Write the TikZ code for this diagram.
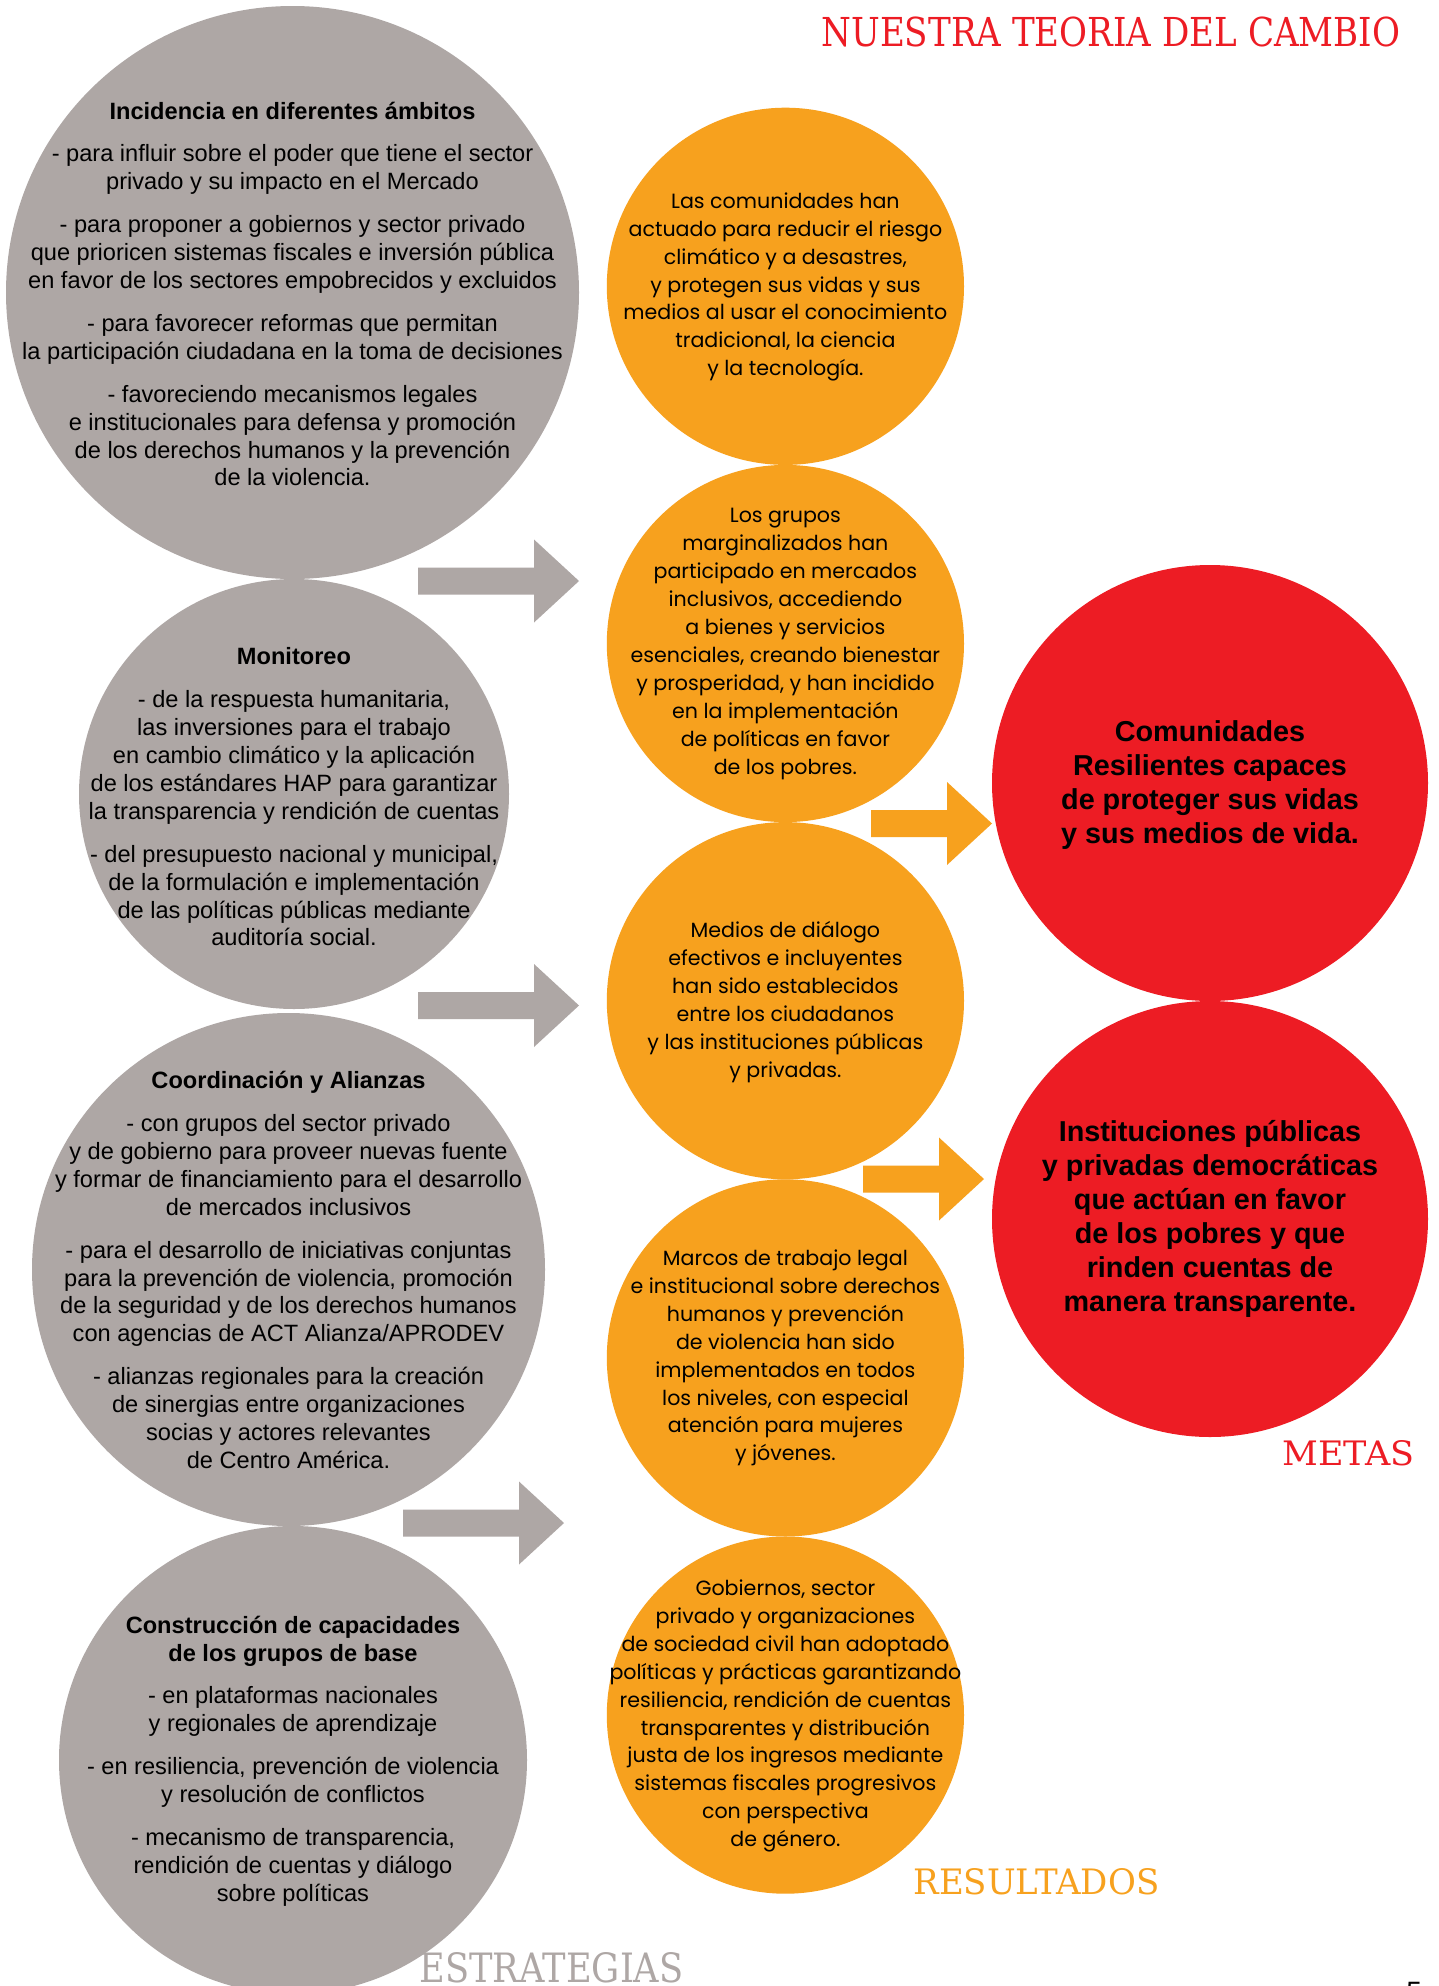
\documentclass[tikz,border=0pt]{standalone}
\usepackage{fontspec}
\setmainfont{Liberation Sans}
\newfontfamily\grfont{Liberation Sans}
\newfontfamily\orfont{Poppins}
\newfontfamily\slabfont{DejaVu Serif}
\definecolor{cgrey}{RGB}{174,167,165}
\definecolor{corange}{RGB}{247,161,30}
\definecolor{cred}{RGB}{237,28,36}
\tikzset{
  gcirc/.style={circle,fill=cgrey,inner sep=0pt,minimum size=#1},
  ocirc/.style={circle,fill=corange,inner sep=0pt,minimum size=#1},
  rcirc/.style={circle,fill=cred,inner sep=0pt,minimum size=#1},
  gtext/.style={align=center,inner sep=0pt,text=black,font=\grfont\fontsize{11.8pt}{13.95pt}\selectfont},
  otext/.style={align=center,inner sep=0pt,text=black,font=\orfont\fontsize{10.3pt}{13.95pt}\selectfont},
  rtext/.style={align=center,inner sep=0pt,text=black,font=\grfont\bfseries\fontsize{14.4pt}{17pt}\selectfont},
  lbl/.style={inner sep=0pt,anchor=south west},
  pics/barrow/.style={code={
    \fill (0,-13.5) -- (#1,-13.5) -- (#1,-41.5) -- (#1+45,0) -- (#1,41.5) -- (#1,13.5) -- (0,13.5) -- cycle;}}
}
\begin{document}
\begin{tikzpicture}[x=0.5pt,y=-0.5pt]
\useasboundingbox (0,0) rectangle (1439,1986);
\fill[white] (0,0) rectangle (1439,1986);

% grey circles (strategies)
\node[gcirc=286.5pt] (g1) at (292.5,292.5) {};
\node[gcirc=215pt]   (g2) at (294,794) {};
\node[gcirc=256.5pt] (g3) at (288.5,1269.5) {};
\node[gcirc=234pt]   (g4) at (293,1760) {};

% orange circles (results)
\node[ocirc=178.6pt] (o1) at (785.4,286.3) {};
\node[ocirc=178.6pt] (o2) at (785.4,643.5) {};
\node[ocirc=178.6pt] (o3) at (785.4,1000.7) {};
\node[ocirc=178.6pt] (o4) at (785.4,1357.9) {};
\node[ocirc=178.6pt] (o5) at (785.4,1715.1) {};

% red circles (goals)
\node[rcirc=218pt] (r1) at (1210,783) {};
\node[rcirc=218pt] (r2) at (1210,1219) {};

% block arrows
\pic[fill=cgrey] at (418,581) {barrow=116};
\pic[fill=cgrey] at (418,1005.5) {barrow=116};
\pic[fill=cgrey] at (403,1523) {barrow=116};
\pic[fill=corange] at (871,823.5) {barrow=76};
\pic[fill=corange] at (863,1179) {barrow=76};

% grey texts
\node[gtext] (tg1) at (292.5,294) {\textbf{Incidencia en diferentes ámbitos}\\[7.5pt]
- para influir sobre el poder que tiene el sector\\
privado y su impacto en el Mercado\\[7.5pt]
- para proponer a gobiernos y sector privado\\
que prioricen sistemas fiscales e inversión pública\\
en favor de los sectores empobrecidos y excluidos\\[7.5pt]
- para favorecer reformas que permitan\\
la participación ciudadana en la toma de decisiones\\[7.5pt]
- favoreciendo mecanismos legales\\
e institucionales para defensa y promoción\\
de los derechos humanos y la prevención\\
de la violencia.};

\node[gtext] (tg2) at (294,797) {\textbf{Monitoreo}\\[7.5pt]
- de la respuesta humanitaria,\\
las inversiones para el trabajo\\
en cambio climático y la aplicación\\
de los estándares HAP para garantizar\\
la transparencia y rendición de cuentas\\[7.5pt]
- del presupuesto nacional y municipal,\\
de la formulación e implementación\\
de las políticas públicas mediante\\
auditoría social.};

\node[gtext] (tg3) at (288.5,1270) {\textbf{Coordinación y Alianzas}\\[7.5pt]
- con grupos del sector privado\\
y de gobierno para proveer nuevas fuente\\
y formar de financiamiento para el desarrollo\\
de mercados inclusivos\\[7.5pt]
- para el desarrollo de iniciativas conjuntas\\
para la prevención de violencia, promoción\\
de la seguridad y de los derechos humanos\\
con agencias de ACT Alianza/APRODEV\\[7.5pt]
- alianzas regionales para la creación\\
de sinergias entre organizaciones\\
socias y actores relevantes\\
de Centro América.};

\node[gtext] (tg4) at (293,1761) {\textbf{Construcción de capacidades}\\
\textbf{de los grupos de base}\\[7.5pt]
- en plataformas nacionales\\
y regionales de aprendizaje\\[7.5pt]
- en resiliencia, prevención de violencia\\
y resolución de conflictos\\[7.5pt]
- mecanismo de transparencia,\\
rendición de cuentas y diálogo\\
sobre políticas};

% orange texts
\node[otext] (to1) at (785.4,287) {Las comunidades han\\
actuado para reducir el riesgo\\
climático y a desastres,\\
y protegen sus vidas y sus\\
medios al usar el conocimiento\\
tradicional, la ciencia\\
y la tecnología.};

\node[otext] (to2) at (785.4,644) {Los grupos\\
marginalizados han\\
participado en mercados\\
inclusivos, accediendo\\
a bienes y servicios\\
esenciales, creando bienestar\\
y prosperidad, y han incidido\\
en la implementación\\
de políticas en favor\\
de los pobres.};

\node[otext] (to3) at (785.4,1002) {Medios de diálogo\\
efectivos e incluyentes\\
han sido establecidos\\
entre los ciudadanos\\
y las instituciones públicas\\
y privadas.};

\node[otext] (to4) at (785.4,1358) {Marcos de trabajo legal\\
e institucional sobre derechos\\
humanos y prevención\\
de violencia han sido\\
implementados en todos\\
los niveles, con especial\\
atención para mujeres\\
y jóvenes.};

\node[otext] (to5) at (785.4,1716) {Gobiernos, sector\\
privado y organizaciones\\
de sociedad civil han adoptado\\
políticas y prácticas garantizando\\
resiliencia, rendición de cuentas\\
transparentes y distribución\\
justa de los ingresos mediante\\
sistemas fiscales progresivos\\
con perspectiva\\
de género.};

% red texts
\node[rtext] (tr1) at (1210,785) {Comunidades\\
Resilientes capaces\\
de proteger sus vidas\\
y sus medios de vida.};

\node[rtext] (tr2) at (1210,1219) {Instituciones públicas\\
y privadas democráticas\\
que actúan en favor\\
de los pobres y que\\
rinden cuentas de\\
manera transparente.};

% section labels
\node[lbl,text=cred] (title) at (821,47) {\resizebox{289.5pt}{14.8pt}{\slabfont NUESTRA TEORIA DEL CAMBIO}};
\node[lbl,text=cred] (metas) at (1282,1466) {\resizebox{66pt}{12.5pt}{\slabfont METAS}};
\node[lbl,text=corange] (resultados) at (913,1895) {\resizebox{123pt}{13pt}{\slabfont RESULTADOS}};
\node[lbl,text=cgrey] (estrategias) at (419,1983) {\resizebox{132pt}{15pt}{\slabfont ESTRATEGIAS}};
\node[inner sep=0pt,anchor=north west,font=\grfont\fontsize{14pt}{16pt}\selectfont] (pagenum) at (1406,1982) {5};
\end{tikzpicture}
\end{document}
